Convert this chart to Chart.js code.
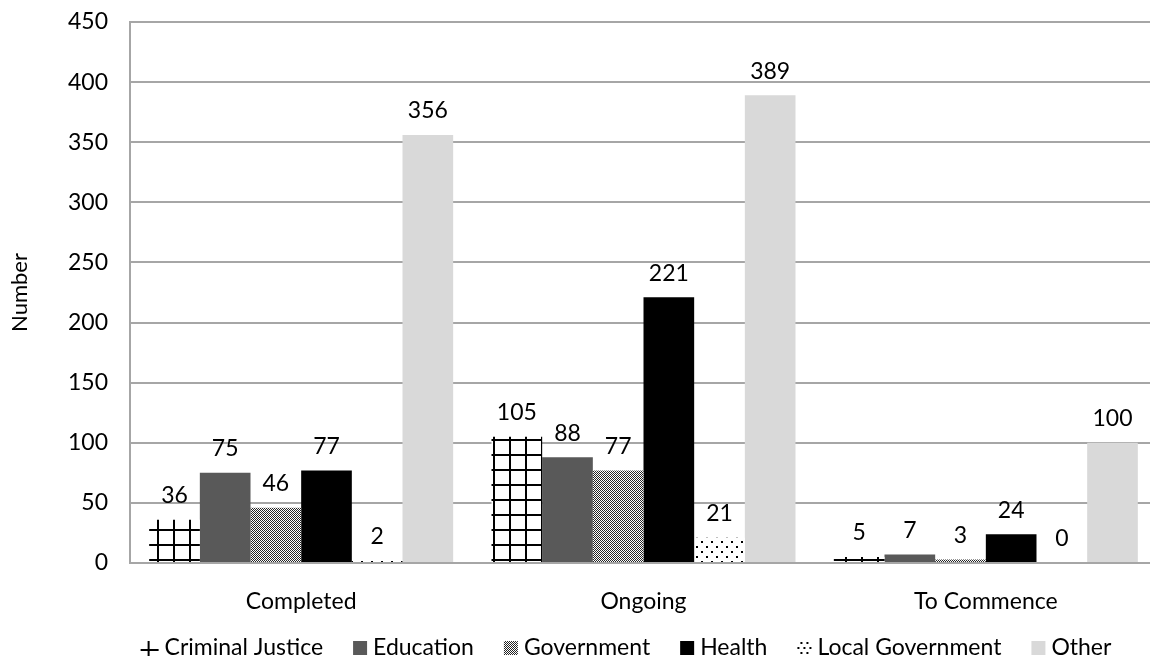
<!DOCTYPE html>
<html>
<head>
<meta charset="utf-8">
<title>Projects by sector and status</title>
<script src="https://cdn.jsdelivr.net/npm/chart.js@4.4.1/dist/chart.umd.min.js"></script>
<style>
  html, body { margin: 0; padding: 0; background: #ffffff; overflow: hidden; }
  #wrap { width: 1160px; height: 661px; }
</style>
</head>
<body>
<div id="wrap"><canvas id="chart" width="1160" height="661"></canvas></div>
<script>
// Project counts by status, one array per sector
const categories = ['Completed', 'Ongoing', 'To Commence'];
const seriesNames = ['Criminal Justice', 'Education', 'Government', 'Health', 'Local Government', 'Other'];
const criminalJustice = [36, 105, 5];
const education = [75, 88, 7];
const government = [46, 77, 3];
const health = [77, 221, 24];
const localGovernment = [2, 21, 0];
const other = [356, 389, 100];
const yMin = 0;
const yMax = 450;
const yStep = 50;

const FONT = 'Lato, "Open Sans", sans-serif';
const FONT_SIZE = 23;
const GRID = '#a6a6a6';

const canvas = document.getElementById('chart');
const ctx = canvas.getContext('2d');

// Small repeating tiles for the hatched fills
function makeTile(w, h, paint) {
  const c = document.createElement('canvas');
  c.width = w; c.height = h;
  const g = c.getContext('2d');
  g.fillStyle = '#ffffff';
  g.fillRect(0, 0, w, h);
  g.fillStyle = '#000000';
  paint(g);
  return c;
}
const gridTile = makeTile(16, 15, g => { g.fillRect(13, 0, 2, 15); g.fillRect(0, 4, 16, 2); });
const checkTile = makeTile(2, 2, g => { g.fillStyle = '#262626'; g.fillRect(0, 0, 1, 1); g.fillRect(1, 1, 1, 1); });
const dotTile = makeTile(10, 10, g => { g.fillRect(1, 1, 2, 2); g.fillRect(6, 6, 2, 2); });

const gridFill = ctx.createPattern(gridTile, 'repeat');
const checkFill = ctx.createPattern(checkTile, 'repeat');
const dotFill = ctx.createPattern(dotTile, 'repeat');

const seriesValues = [criminalJustice, education, government, health, localGovernment, other];
const seriesFills = [gridFill, '#595959', checkFill, '#000000', dotFill, '#d9d9d9'];

// Value printed above each bar
const valueLabels = {
  id: 'valueLabels',
  afterDatasetsDraw(chart) {
    const c = chart.ctx;
    c.save();
    c.font = FONT_SIZE + 'px ' + FONT;
    c.fillStyle = '#000000';
    c.textAlign = 'center';
    c.textBaseline = 'middle';
    chart.data.datasets.forEach((ds, i) => {
      chart.getDatasetMeta(i).data.forEach((bar, j) => {
        c.fillText(String(ds.data[j]), bar.x, bar.y - 24);
      });
    });
    c.restore();
  }
};

// Legend row along the bottom, icons drawn from the series fills
function drawIcon(c, i, x, y) {
  const s = 14;
  if (i === 0) {
    c.fillStyle = '#000000';
    c.fillRect(x, y + 1, 18, 2);
    c.fillRect(x + 7, y - 7, 2, 15);
    return;
  }
  if (i === 4) {
    c.fillStyle = '#000000';
    [[3, -6], [9, -6], [0, -1], [12, -1], [3, 4], [9, 4], [6, -1]].forEach(p => c.fillRect(x + p[0], y + p[1], 2, 2));
    return;
  }
  c.fillStyle = seriesFills[i];
  c.fillRect(x, y - s / 2, s, s);
}
const bottomLegend = {
  id: 'bottomLegend',
  afterDraw(chart) {
    const c = chart.ctx;
    c.save();
    c.font = FONT_SIZE + 'px ' + FONT;
    c.textBaseline = 'middle';
    c.textAlign = 'left';
    const iconW = [18, 14, 14, 14, 14, 14];
    const iconGap = 6, itemGap = 30;
    let total = 0;
    seriesNames.forEach((n, i) => {
      total += iconW[i] + iconGap + c.measureText(n).width;
      if (i < seriesNames.length - 1) total += itemGap;
    });
    let x = 626 - total / 2;
    const y = 648;
    seriesNames.forEach((n, i) => {
      drawIcon(c, i, x, y);
      x += iconW[i] + iconGap;
      c.fillStyle = '#000000';
      c.fillText(n, x, y);
      x += c.measureText(n).width + itemGap;
    });
    c.restore();
  }
};

new Chart(ctx, {
  type: 'bar',
  data: {
    labels: categories,
    datasets: seriesNames.map((name, i) => ({
      label: name,
      data: seriesValues[i],
      backgroundColor: seriesFills[i],
      borderWidth: 0,
      categoryPercentage: 0.888,
      barPercentage: 1.0
    }))
  },
  options: {
    responsive: false,
    animation: false,
    devicePixelRatio: 1,
    layout: { padding: { top: 22, right: 3, left: 0, bottom: 0 } },
    plugins: {
      legend: { display: false },
      tooltip: { enabled: false }
    },
    scales: {
      x: {
        grid: { display: false, drawTicks: false },
        border: { color: GRID, width: 2 },
        ticks: { font: { family: FONT, size: FONT_SIZE }, color: '#000000', padding: 25 },
        afterFit(scale) { scale.height = 98; }
      },
      y: {
        min: yMin,
        max: yMax,
        ticks: { stepSize: yStep, font: { family: FONT, size: FONT_SIZE }, color: '#000000', padding: 22 },
        grid: { color: GRID, lineWidth: 2, drawTicks: false },
        border: { color: GRID, width: 2 },
        title: {
          display: true,
          text: 'Number',
          font: { family: FONT, size: FONT_SIZE - 1 },
          color: '#000000',
          padding: { top: 7, bottom: 0 }
        },
        afterFit(scale) {
          scale.width = 130;
          scale.paddingTop = 0;
          scale.paddingBottom = 0;
        }
      }
    }
  },
  plugins: [valueLabels, bottomLegend]
});
</script>
</body>
</html>
